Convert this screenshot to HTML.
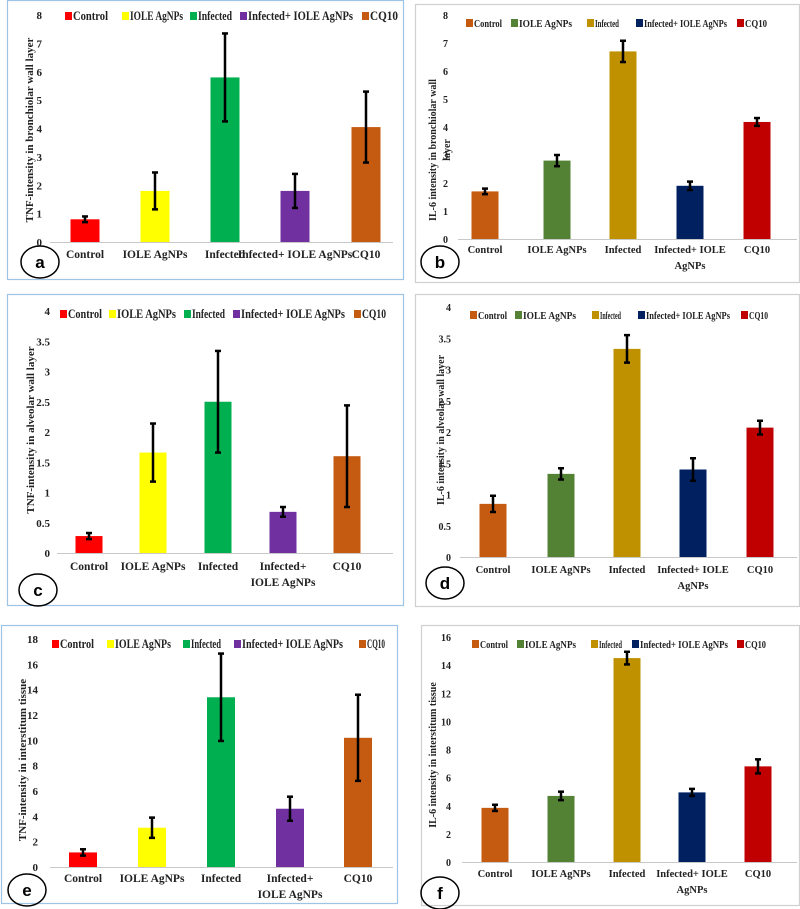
<!DOCTYPE html>
<html><head><meta charset="utf-8">
<style>
body{margin:0;background:#fff;width:800px;height:909px;overflow:hidden}
svg{display:block}
text{font-family:"Liberation Serif",serif;font-weight:bold;fill:#222}
</style></head><body>
<svg id="chart" width="800" height="909" viewBox="0 0 800 909" xmlns="http://www.w3.org/2000/svg"></svg>
<script>
const categories = ["Control","IOLE  AgNPs","Infected","Infected+ IOLE  AgNPs","CQ10"];
const valuesA = [0.8, 1.8, 5.8, 1.8, 4.05];
const errorsA = [0.1, 0.65, 1.55, 0.6, 1.25];
const ticksA = [0,1,2,3,4,5,6,7,8];
const valuesB = [1.7, 2.8, 6.7, 1.9, 4.18];
const errorsB = [0.1, 0.2, 0.38, 0.15, 0.14];
const ticksB = [0,1,2,3,4,5,6,7,8];
const valuesC = [0.28, 1.66, 2.5, 0.68, 1.6];
const errorsC = [0.05, 0.48, 0.84, 0.08, 0.84];
const ticksC = [0,0.5,1,1.5,2,2.5,3,3.5,4];
const valuesD = [0.85, 1.33, 3.33, 1.4, 2.07];
const errorsD = [0.13, 0.09, 0.22, 0.18, 0.11];
const ticksD = [0,0.5,1,1.5,2,2.5,3,3.5,4];
const valuesE = [1.15, 3.1, 13.4, 4.6, 10.2];
const errorsE = [0.25, 0.8, 3.45, 0.95, 3.4];
const ticksE = [0,2,4,6,8,10,12,14,16,18];
const valuesF = [3.85, 4.7, 14.5, 4.95, 6.8];
const errorsF = [0.22, 0.3, 0.45, 0.25, 0.5];
const ticksF = [0,2,4,6,8,10,12,14,16];

const tnfColors = ["#ff0000","#ffff00","#00b050","#7030a0","#c55a11"];
const ilColors = ["#c55a11","#548235","#bf9000","#002060","#c00000"];
const NS="http://www.w3.org/2000/svg";
const svg=document.getElementById('chart');
function mk(tag,attrs,parent,txt){const e=document.createElementNS(NS,tag);for(const k in attrs)e.setAttribute(k,attrs[k]);if(txt!==undefined)e.textContent=txt;(parent||svg).appendChild(e);return e;}

const panels=[
 {id:'a',box:[7,0,396,279],stroke:'#9dc3e6',y0:242,yTop:15,max:8,ax:[50,393],cx:[85,155,225,295,366],bw:29,vals:valuesA,errs:errorsA,ticks:ticksA,tickX:42,colors:tnfColors,legY:20,legX:[65,122,190,240,362],legE:[108,183,232,353,398],lfs:12.5,catY:258,wrap:false,circle:[40,262],title:["TNF-intensity in bronchiolar wall layer"],titleX:[29],titleY:130,fs:11},
 {id:'b',box:[415,4,384,278],stroke:'#d0d0d0',y0:239,yTop:15,max:8,ax:[458,797],cx:[485,557,623,690,757],bw:27,vals:valuesB,errs:errorsB,ticks:ticksB,tickX:448,colors:ilColors,legY:27,legX:[466,511,587,636,737],legE:[502,572,619,727,767],lfs:11,catY:253,wrap:true,circle:[440,262],title:["IL-6 intensity in bronchiolar wall","layer"],titleX:[432,446],titleY:150,fs:10},
 {id:'c',box:[7,294,396,311],stroke:'#9dc3e6',y0:553,yTop:311,max:4,ax:[57,393],cx:[89,153,218,283,347],bw:27,vals:valuesC,errs:errorsC,ticks:ticksC,tickX:50,colors:tnfColors,legY:318,legX:[60,109,184,233,354],legE:[102,176,225,345,386],lfs:12.5,catY:570,wrap:true,wrapAll:true,circle:[38,590],title:["TNF-intensity in alveolar wall layer"],titleX:[30],titleY:430,fs:11},
 {id:'d',box:[415,294,384,312],stroke:'#d0d0d0',y0:557,yTop:307,max:4,ax:[460,797],cx:[493,561,627,693,760],bw:27,vals:valuesD,errs:errorsD,ticks:ticksD,tickX:451,colors:ilColors,legY:319,legX:[470,515,592,638,741],legE:[507,576,621,730,768],lfs:11,catY:573,wrap:true,circle:[445,583],title:["IL-6 intensity in alveolar wall layer"],titleX:[440],titleY:430,fs:10},
 {id:'e',box:[1,625,396,278],stroke:'#9dc3e6',y0:867,yTop:639,max:18,ax:[50,393],cx:[83,152,221,290,358],bw:28,vals:valuesE,errs:errorsE,ticks:ticksE,tickX:38,colors:tnfColors,legY:648,legX:[52,107,183,234,359],legE:[94,171,221,343,385],lfs:12.5,catY:882,wrap:true,wrapAll:true,circle:[27,890],title:["TNF-intensity in interstitum tissue"],titleX:[22],titleY:760,fs:11},
 {id:'f',box:[421,625,378,280],stroke:'#d0d0d0',y0:862,yTop:637,max:16,ax:[462,797],cx:[495,561,627,692,758],bw:27,vals:valuesF,errs:errorsF,ticks:ticksF,tickX:451,colors:ilColors,legY:648,legX:[472,517,591,632,737],legE:[508,576,622,728,766],lfs:11,catY:877,wrap:true,circle:[440,893],title:["IL-6 intensity in interstitum tissue"],titleX:[432],titleY:755,fs:10}
];
const legendLabels=["Control","IOLE  AgNPs","Infected","Infected+ IOLE  AgNPs","CQ10"];

panels.forEach(p=>{
  const g=mk('g',{});
  
  
  const box=mk('rect',{x:p.box[0]+0.5,y:p.box[1]+0.5,width:p.box[2],height:p.box[3],fill:'#fff',stroke:p.stroke,'stroke-width':1.2},g);
  
  
  const yS=v=>p.y0-(v/p.max)*(p.y0-p.yTop);
  p.ticks.forEach(t=>{
    const tx=mk('text',{x:p.tickX,y:yS(t)+4,'text-anchor':'end','font-size':p.fs},g,String(t));
    
    
  });
  const axis=mk('line',{x1:p.ax[0],x2:p.ax[1],y1:p.y0+0.5,y2:p.y0+0.5,stroke:'#c8c8c8','stroke-width':1},g);
  
  
  p.vals.forEach((v,i)=>{
    const top=yS(v);
    const r=mk('rect',{x:p.cx[i]-p.bw/2,y:top,width:p.bw,height:p.y0-top,fill:p.colors[i]},g);
    
    
    const e=p.errs[i],hi=yS(v+e),lo=yS(v-e);
    const eb=mk('g',{stroke:'#000','stroke-width':2.5},g);
    
    
    mk('line',{x1:p.cx[i],x2:p.cx[i],y1:hi,y2:lo},eb);
    mk('line',{x1:p.cx[i]-3,x2:p.cx[i]+3,y1:hi,y2:hi},eb);
    mk('line',{x1:p.cx[i]-3,x2:p.cx[i]+3,y1:lo,y2:lo},eb);
  });
  categories.forEach((c,i)=>{
    const t=mk('text',{x:p.cx[i],y:p.catY,'text-anchor':'middle','font-size':p.fs+0.5},g);
    
    
    if(i===3 && p.wrap){
      const l1=p.wrapAll?"Infected+":"Infected+ IOLE";
      const l2=p.wrapAll?"IOLE  AgNPs":"AgNPs";
      mk('tspan',{x:p.cx[i],dy:0},t,l1);
      mk('tspan',{x:p.cx[i],dy:16},t,l2);
    } else t.textContent=c;
  });
  legendLabels.forEach((l,i)=>{
    const lg=mk('g',{},g);
    
    
    mk('rect',{x:p.legX[i],y:p.legY-8,width:7,height:8,fill:p.colors[i]},lg);
    mk('text',{x:p.legX[i]+8,y:p.legY,'font-size':p.lfs,textLength:p.legE[i]-p.legX[i]-8,lengthAdjust:'spacingAndGlyphs'},lg,l);
  });
  p.title.forEach((tl,k)=>{
    const t=mk('text',{x:0,y:0,'text-anchor':'middle','font-size':p.fs,transform:`translate(${p.titleX[k]+4},${p.titleY}) rotate(-90)`},g,tl);
    
    
  });
  const cg=mk('g',{},g);
  
  
  mk('ellipse',{cx:p.circle[0],cy:p.circle[1],rx:19,ry:16,fill:'none',stroke:'#000','stroke-width':1.5},cg);
  mk('text',{x:p.circle[0],y:p.circle[1]+6,'text-anchor':'middle','font-size':17,style:'font-family:"Liberation Sans",sans-serif;fill:#000'},cg,p.id);
});
</script>
</body></html>
